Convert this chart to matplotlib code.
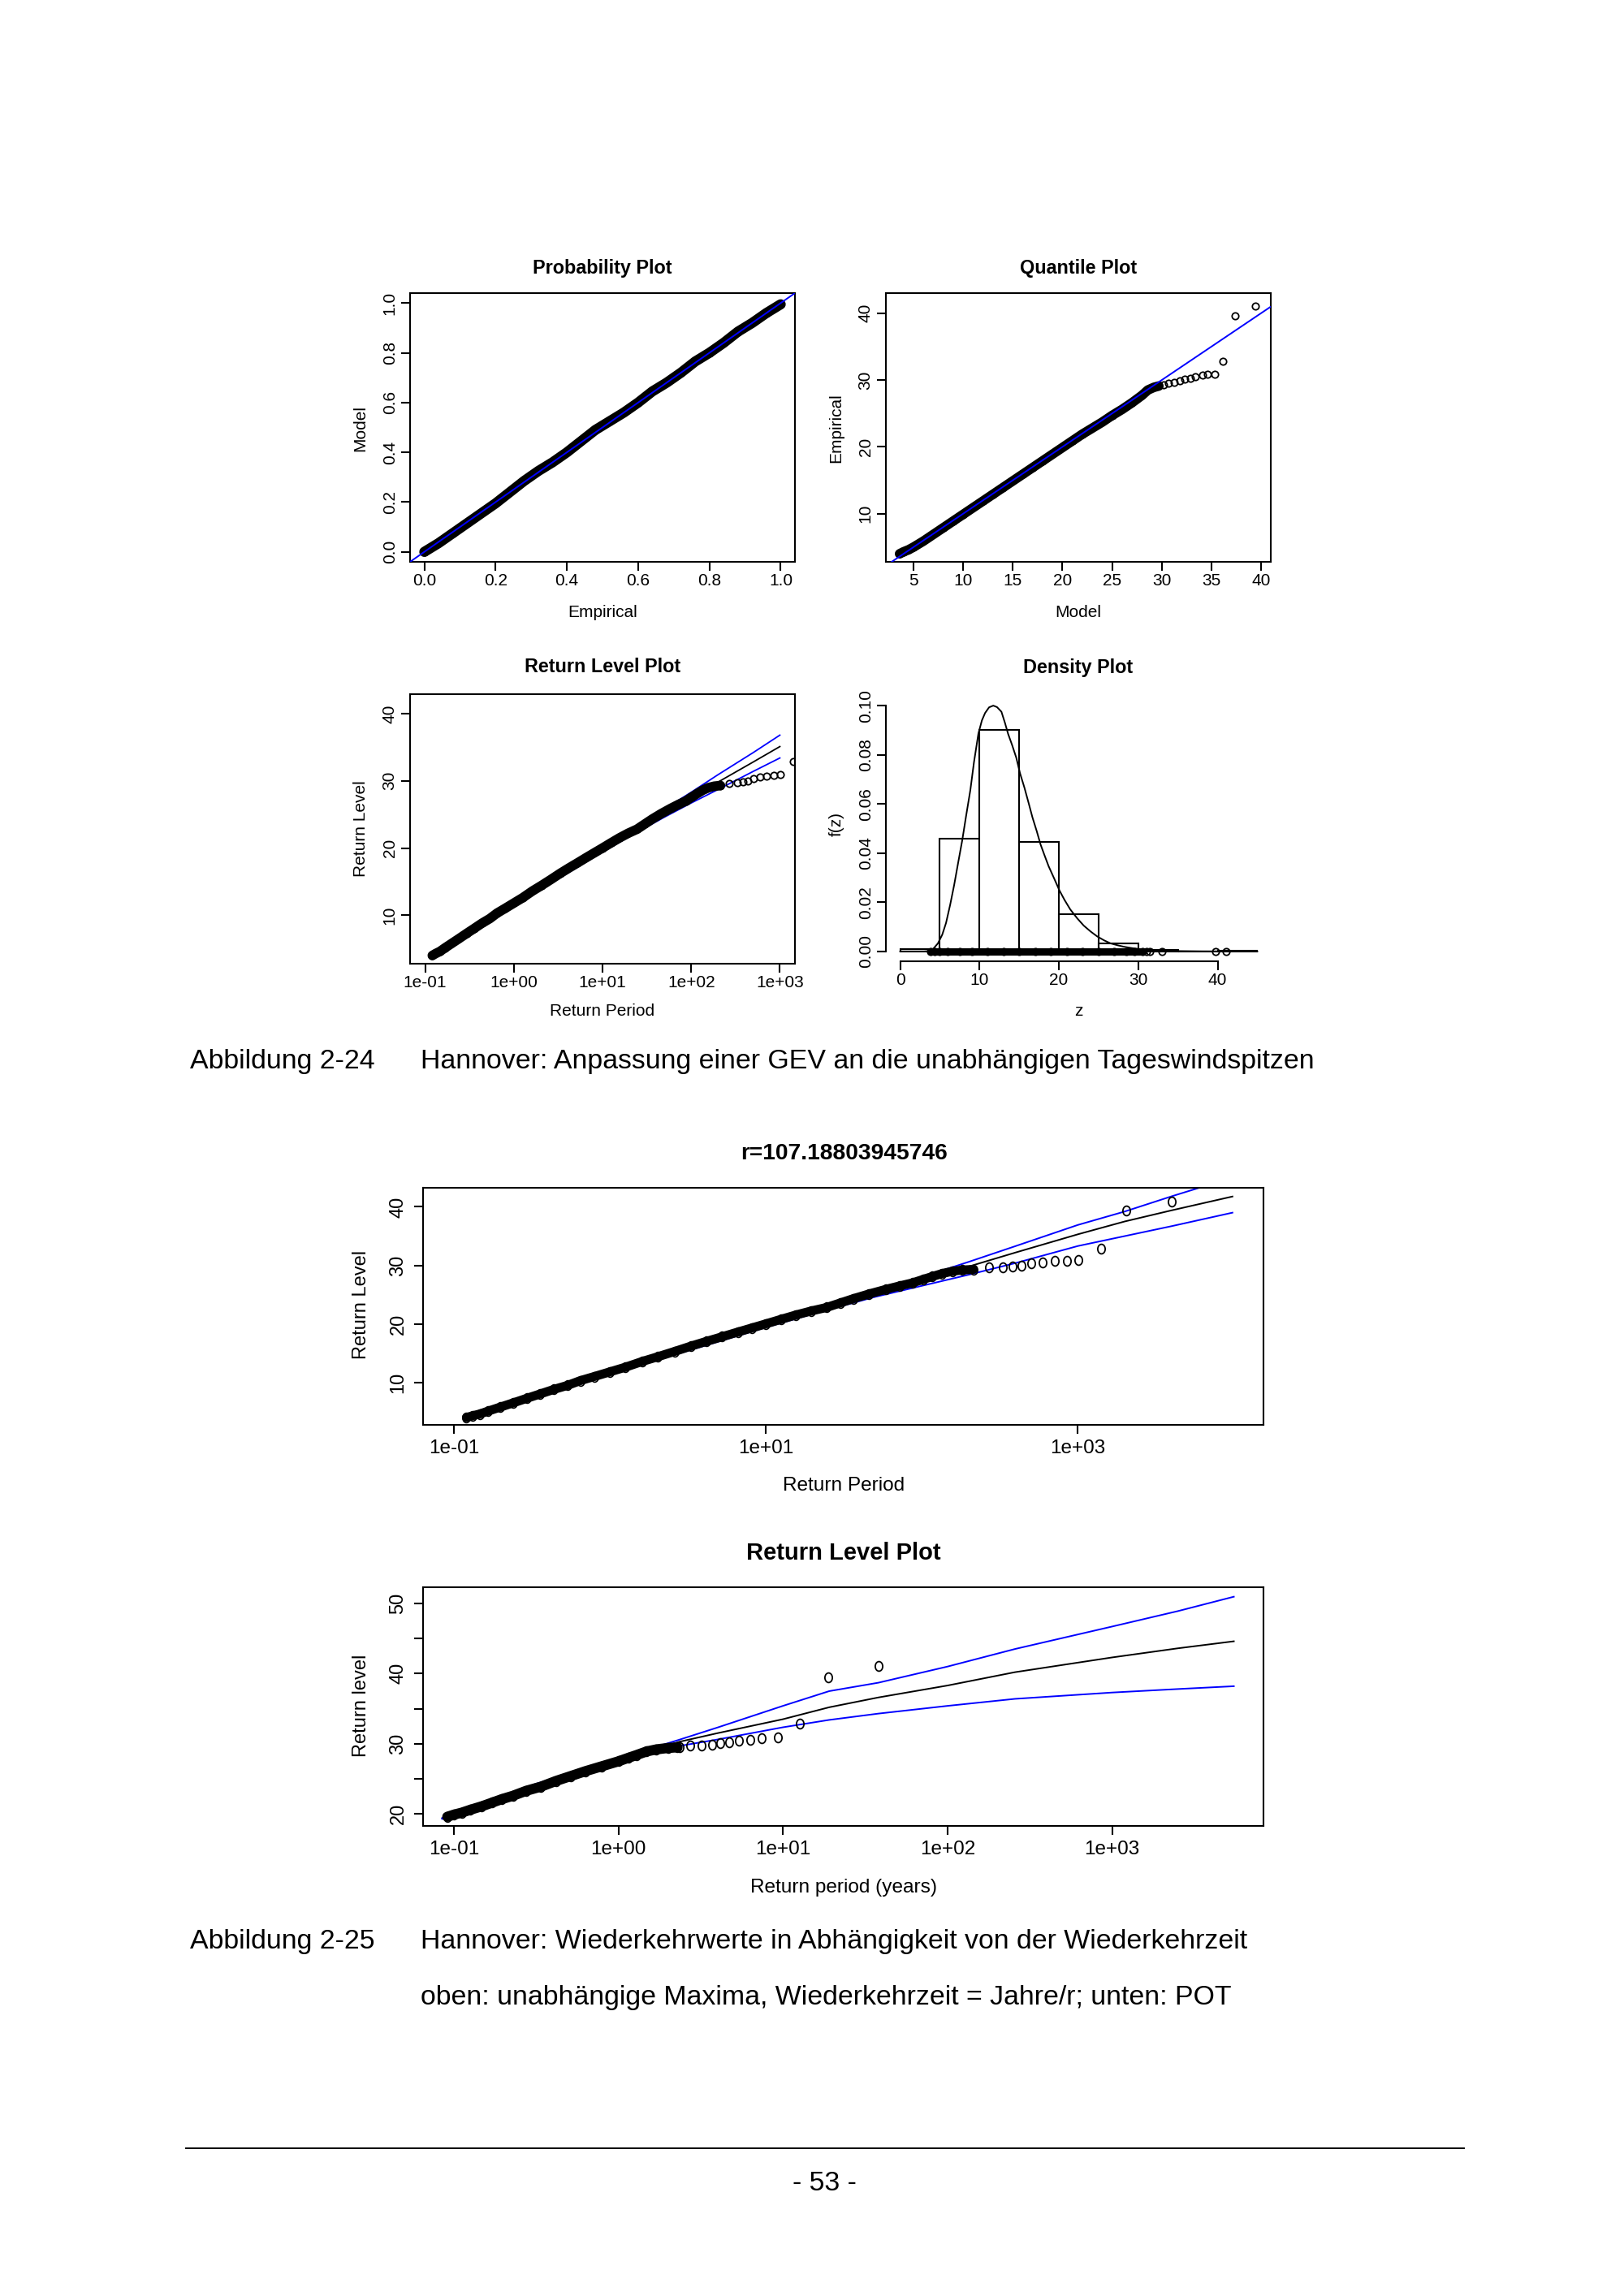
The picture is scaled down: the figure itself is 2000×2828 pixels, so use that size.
import matplotlib
matplotlib.use('Agg')
import matplotlib.pyplot as plt
from matplotlib.lines import Line2D
from matplotlib.path import Path
from matplotlib.ticker import NullLocator
from matplotlib.transforms import Affine2D

# ---------------- values ----------------
# Probability plot
prob_empirical = [0.0, 0.04, 0.08, 0.12, 0.16, 0.20, 0.24, 0.28, 0.32, 0.36, 0.40, 0.44, 0.48,
                  0.52, 0.56, 0.60, 0.64, 0.68, 0.72, 0.76, 0.80, 0.84, 0.88, 0.92, 0.96, 1.0]
prob_model = [0.0, 0.035, 0.075, 0.115, 0.155, 0.195, 0.24, 0.285, 0.325, 0.36, 0.40, 0.445, 0.49,
              0.525, 0.56, 0.60, 0.645, 0.68, 0.72, 0.765, 0.80, 0.84, 0.885, 0.92, 0.96, 0.995]

# Quantile plot
qq_model = [3.6, 4.0, 4.5, 5.0, 6.0, 7.0, 8.0, 9.0, 10.0, 11.0, 12.0, 13.0, 14.0, 15.0, 16.0,
            17.0, 18.0, 19.0, 20.0, 21.0, 22.0, 23.0, 24.0, 25.0, 26.0, 27.0, 28.0, 28.6, 29.2, 29.7]
qq_empirical = [4.0, 4.3, 4.6, 5.0, 5.9, 6.9, 7.9, 8.9, 9.9, 10.9, 11.9, 12.9, 13.9, 14.9, 15.9,
                16.9, 17.9, 18.9, 19.9, 20.9, 21.9, 22.8, 23.7, 24.7, 25.6, 26.6, 27.7, 28.5, 28.9, 29.1]
qq_tail_model = [30.2, 30.7, 31.25, 31.8, 32.3, 32.9, 33.4, 34.1, 34.6, 35.3, 36.13, 37.4, 39.45]
qq_tail_empirical = [29.3, 29.5, 29.7, 29.9, 30.1, 30.3, 30.5, 30.7, 30.85, 30.9, 32.85, 39.6, 41.05]

# Return level points (block maxima), shared by the small and the wide plot
rl_period = [0.1205, 0.1318, 0.1466, 0.166, 0.1995, 0.240, 0.295, 0.355, 0.437, 0.537, 0.646,
             0.794, 1.0, 1.259, 1.622, 2.04, 2.61, 3.31, 4.15, 5.25, 6.61, 8.13, 10.0, 12.6, 15.5,
             19.5, 24.5, 30.2, 36.3, 45.7, 58.9, 72.4, 87.1, 102, 117, 135, 158, 182, 214]
rl_level = [4.0, 4.3, 4.6, 5.1, 5.8, 6.5, 7.3, 8.0, 8.8, 9.5, 10.3, 11.0, 11.8, 12.6, 13.6, 14.4,
            15.3, 16.2, 17.0, 17.8, 18.6, 19.3, 20.0, 20.8, 21.5, 22.2, 22.8, 23.6, 24.3, 25.1,
            25.9, 26.5, 27.0, 27.6, 28.1, 28.6, 29.0, 29.2, 29.3]
rl_tail_period = [269, 331, 380, 437, 501, 596, 708, 851, 1012, 1413, 2032, 4009]
rl_tail_level = [29.6, 29.7, 29.8, 30.0, 30.3, 30.55, 30.7, 30.8, 30.95, 32.9, 39.3, 40.9]

# GEV return level curve with confidence band (small plot)
gev_period = [0.217, 0.5, 1, 2, 5, 10, 20, 50, 100, 200, 500, 1000]
gev_fit = [6.1, 9.1, 11.6, 14.1, 17.3, 19.7, 22.1, 25.2, 27.5, 29.8, 32.8, 35.1]
gev_upper = [6.4, 9.4, 11.9, 14.4, 17.6, 20.0, 22.5, 25.8, 28.3, 30.9, 34.2, 36.8]
gev_lower = [5.8, 8.8, 11.3, 13.8, 17.0, 19.4, 21.7, 24.6, 26.7, 28.7, 31.4, 33.4]

# return level curve of the wide plot (r=107.188...)
wide_period = [0.217, 0.5, 1, 2, 5, 10, 20, 50, 100, 200, 400, 1000, 2000, 4000, 9800]
wide_fit = [6.1, 9.1, 11.6, 14.1, 17.3, 19.7, 22.1, 25.2, 27.5, 29.8, 32.2, 35.3, 37.5, 39.4, 41.76]
wide_upper = [6.4, 9.4, 11.9, 14.4, 17.6, 20.0, 22.5, 25.8, 28.0, 30.6, 33.3, 36.9, 39.2, 41.8, 45.0]
wide_lower = [5.8, 8.8, 11.3, 13.8, 17.0, 19.4, 21.7, 24.6, 26.5, 28.4, 30.4, 33.3, 35.0, 36.7, 39.0]

# Density plot
hist_edges = [0, 5, 10, 15, 20, 25, 30, 35, 40, 45]
hist_density = [0.0008, 0.0458, 0.0901, 0.0444, 0.0151, 0.0034, 0.0006, 0.0, 0.0004]
dens_z = [0, 3.0, 3.74, 4.2, 4.76, 5.3, 5.78, 6.3, 6.8, 7.3, 7.82, 8.3, 8.84, 9.3, 9.86, 10.3,
          10.7, 11.2, 11.73, 12.2, 12.76, 13.2, 13.6, 14.1, 14.63, 15.1, 15.65, 16.2, 16.67, 17.2,
          17.69, 18.2, 18.7, 19.4, 20.07, 20.7, 21.43, 22.3, 23.13, 24.0, 24.83, 25.7, 26.5, 27.4,
          28.2, 29.5, 31.0, 33.0, 35.0, 38.0, 41.0, 45.0]
dens_f = [0, 0, 0.0002, 0.0012, 0.0033, 0.0068, 0.0116, 0.019, 0.027, 0.036, 0.0452, 0.055, 0.0656,
          0.077, 0.0887, 0.094, 0.097, 0.0993, 0.1, 0.0994, 0.0975, 0.093, 0.0885, 0.084, 0.0788,
          0.0725, 0.0667, 0.0602, 0.0545, 0.049, 0.0435, 0.039, 0.0347, 0.0297, 0.0248, 0.021,
          0.0171, 0.0135, 0.0105, 0.0081, 0.0061, 0.0045, 0.0033, 0.0025, 0.0019, 0.0012, 0.0007,
          0.0003, 0.00015, 0.00005, 0.00002, 0]
rug_z = [3.8, 4.3, 5.0, 6.0, 7.5, 9.0, 11.0, 13.0, 15.0, 17.0, 19.0, 21.0, 23.0, 25.0, 27.0,
         28.5, 29.5, 30.5]
rug_tail_z = [31.0, 31.5, 33.0, 39.7, 41.1]

# POT return level plot
pot_period = [0.0912, 0.1, 0.112, 0.126, 0.148, 0.17, 0.195, 0.229, 0.275, 0.339, 0.417, 0.513,
              0.631, 0.794, 1.0, 1.15, 1.29, 1.48, 1.70, 2.0, 2.29]
pot_level = [19.6, 19.9, 20.2, 20.6, 21.1, 21.6, 22.1, 22.6, 23.3, 23.9, 24.7, 25.4, 26.1, 26.8,
             27.5, 28.0, 28.4, 28.9, 29.2, 29.4, 29.5]
pot_tail_period = [2.36, 2.74, 3.19, 3.72, 4.16, 4.73, 5.42, 6.31, 7.45, 9.33, 12.7, 18.9, 38.1]
pot_tail_level = [29.5, 29.7, 29.8, 29.9, 30.05, 30.2, 30.5, 30.6, 30.8, 30.9, 32.9, 39.45, 41.06]
pot_curve_period = [0.085, 0.316, 1.0, 2.36, 3.98, 10, 19.1, 38, 100, 257, 1000, 2512, 5495]
pot_upper = [19.4, 24.3, 27.9, 30.6, 32.3, 35.4, 37.5, 38.7, 41.0, 43.5, 46.7, 48.9, 50.95]
pot_fit = [19.4, 24.0, 27.6, 30.3, 31.5, 33.5, 35.2, 36.6, 38.3, 40.2, 42.3, 43.6, 44.6]
pot_lower = [19.3, 23.7, 27.2, 29.7, 30.6, 32.35, 33.4, 34.3, 35.4, 36.4, 37.3, 37.8, 38.2]

log_labels = ['1e-01', '1e+00', '1e+01', '1e+02', '1e+03']

# ---------------- page ----------------
W, H = 2000, 2828
fig = plt.figure(figsize=(W / 100, H / 100), dpi=100)
fig.patch.set_facecolor('white')

SANS = ['Liberation Sans', 'DejaVu Sans']
BLUE = '#0000ff'
oval = Path.unit_circle().transformed(Affine2D().scale(0.78, 1.0))


def add_axes(x0, y0, x1, y1):
    ax = fig.add_axes([x0 / W, 1 - y1 / H, (x1 - x0) / W, (y1 - y0) / H])
    for s in ax.spines.values():
        s.set_linewidth(1.5)
    ax.tick_params(direction='out', length=8, width=1.5)
    return ax


def put(x, y, s, size, **kw):
    kw.setdefault('ha', 'center')
    kw.setdefault('va', 'center')
    fig.text(x / W, 1 - y / H, s, fontsize=size, family=SANS, **kw)


def set_ticks(ax, xt, xl, yt, yl, xfs, yfs, xpad=2, ypad=3):
    ax.set_xticks(xt)
    ax.set_xticklabels(xl, fontsize=xfs, family=SANS)
    ax.set_yticks(yt)
    ax.set_yticklabels(yl, fontsize=yfs, family=SANS, rotation=90, va='center')
    ax.xaxis.set_minor_locator(NullLocator())
    ax.yaxis.set_minor_locator(NullLocator())
    ax.tick_params(axis='x', pad=xpad)
    ax.tick_params(axis='y', pad=ypad)


def cloud(ax, x, y, lw, ms, marker='o'):
    # dense run of overlapping circles: drawn as a solid band plus the circles
    ax.plot(x, y, color='black', lw=lw, solid_capstyle='round', solid_joinstyle='round', zorder=3)
    ax.plot(x, y, ls='none', marker=marker, ms=ms, mfc='none', mec='black', mew=1.2, zorder=3)


def circles(ax, x, y, ms, marker='o'):
    ax.plot(x, y, ls='none', marker=marker, ms=ms, mfc='none', mec='black', mew=1.3, zorder=3)


def curves(ax, x, fit, upper, lower, lw):
    ax.plot(x, fit, color='black', lw=lw, zorder=2)
    ax.plot(x, upper, color=BLUE, lw=lw, zorder=2)
    ax.plot(x, lower, color=BLUE, lw=lw, zorder=2)


# --- Probability plot ---
ax = add_axes(505, 361, 979, 692)
cloud(ax, prob_empirical, prob_model, 9, 6)
ax.axline((0, 0), slope=1, color=BLUE, lw=1.4, zorder=4)
ax.set_xlim(-0.04, 1.04)
ax.set_ylim(-0.04, 1.04)
lab = ['0.0', '0.2', '0.4', '0.6', '0.8', '1.0']
set_ticks(ax, [0, 0.2, 0.4, 0.6, 0.8, 1.0], lab, [0, 0.2, 0.4, 0.6, 0.8, 1.0], lab, 15, 15)
put(742, 330, 'Probability Plot', 16.8, weight='bold')
put(742, 754, 'Empirical', 15)
put(444, 527, 'Model', 15, rotation=90)

# --- Quantile plot ---
ax = add_axes(1091, 361, 1565, 692)
cloud(ax, qq_model, qq_empirical, 8.5, 6)
circles(ax, qq_tail_model, qq_tail_empirical, 6)
ax.axline((10, 10), slope=1, color=BLUE, lw=1.4, zorder=4)
ax.set_xlim(2.22, 40.97)
ax.set_ylim(2.8, 43.0)
set_ticks(ax, [5, 10, 15, 20, 25, 30, 35, 40], ['5', '10', '15', '20', '25', '30', '35', '40'],
          [10, 20, 30, 40], ['10', '20', '30', '40'], 15, 15)
put(1328, 330, 'Quantile Plot', 16.8, weight='bold')
put(1328, 754, 'Model', 15)
put(1030, 527, 'Empirical', 15, rotation=90)

# --- Return level plot (small) ---
ax = add_axes(505, 855, 979, 1187)
ax.set_xscale('log')
curves(ax, gev_period, gev_fit, gev_upper, gev_lower, 1.3)
cloud(ax, rl_period, rl_level, 8.5, 6)
circles(ax, rl_tail_period, rl_tail_level, 6)
ax.set_xlim(10 ** -1.17, 10 ** 3.17)
ax.set_ylim(2.78, 42.9)
set_ticks(ax, [0.1, 1, 10, 100, 1000], log_labels, [10, 20, 30, 40], ['10', '20', '30', '40'], 15, 15)
put(742, 822, 'Return Level Plot', 16.8, weight='bold')
put(742, 1246, 'Return Period', 15)
put(444, 1021, 'Return Level', 15, rotation=90)

# --- Density plot ---
ax = add_axes(1091, 857, 1566, 1184)
ax.bar(hist_edges[:-1], hist_density, width=5, align='edge', facecolor='white',
       edgecolor='black', lw=1.5, zorder=1)
ax.plot(rug_z, [0] * len(rug_z), color='black', lw=6.5, solid_capstyle='round', zorder=2)
circles(ax, rug_z + rug_tail_z, [0] * (len(rug_z) + len(rug_tail_z)), 6)
ax.plot(dens_z, dens_f, color='black', lw=1.4, zorder=3)
ax.set_xlim(-1.8, 46.8)
ax.set_ylim(-0.004, 0.104)
ax.spines['top'].set_visible(False)
ax.spines['right'].set_visible(False)
ax.spines['left'].set_bounds(0, 0.1)
ax.spines['bottom'].set_bounds(0, 40)
set_ticks(ax, [0, 10, 20, 30, 40], ['0', '10', '20', '30', '40'],
          [0, 0.02, 0.04, 0.06, 0.08, 0.10], ['0.00', '0.02', '0.04', '0.06', '0.08', '0.10'], 15, 15)
put(1328, 822, 'Density Plot', 16.8, weight='bold')
put(1328, 1246, 'z', 15)
put(1030, 1015, 'f(z)', 15, rotation=90)

# --- caption 2-24 ---
put(234, 1316, 'Abbildung 2-24', 24.4, ha='left', va='baseline')
put(518, 1316, 'Hannover: Anpassung einer GEV an die unabhängigen Tageswindspitzen', 24.4,
    ha='left', va='baseline')

# --- wide return level plot (independent maxima) ---
ax = add_axes(521, 1463, 1556, 1755)
ax.set_xscale('log')
curves(ax, wide_period, wide_fit, wide_upper, wide_lower, 1.4)
cloud(ax, rl_period, rl_level, 8, 8.5, oval)
circles(ax, rl_tail_period, rl_tail_level, 8.5, oval)
ax.set_xlim(10 ** -1.197, 10 ** 4.19)
ax.set_ylim(2.75, 43.25)
set_ticks(ax, [0.1, 10, 1000], ['1e-01', '1e+01', '1e+03'], [10, 20, 30, 40],
          ['10', '20', '30', '40'], 17.5, 17, xpad=5, ypad=6)
put(1039, 1421, 'r=107.18803945746', 20.3, weight='bold')
put(1039, 1830, 'Return Period', 17.6)
put(445, 1607, 'Return Level', 17, rotation=90)

# --- POT return level plot ---
ax = add_axes(521, 1955, 1556, 2249)
ax.set_xscale('log')
curves(ax, pot_curve_period, pot_fit, pot_upper, pot_lower, 1.4)
cloud(ax, pot_period, pot_level, 9, 8.5, oval)
circles(ax, pot_tail_period, pot_tail_level, 8.5, oval)
ax.set_xlim(10 ** -1.187, 10 ** 3.92)
ax.set_ylim(18.3, 52.3)
set_ticks(ax, [0.1, 1, 10, 100, 1000], log_labels, [20, 25, 30, 35, 40, 45, 50],
          ['20', '', '30', '', '40', '', '50'], 17.5, 17, xpad=5, ypad=6)
put(1039, 1913, 'Return Level Plot', 21, weight='bold')
put(1039, 2325, 'Return period (years)', 17.6)
put(445, 2101, 'Return level', 17, rotation=90)

# --- caption 2-25 ---
put(234, 2400, 'Abbildung 2-25', 24.4, ha='left', va='baseline')
put(518, 2400, 'Hannover: Wiederkehrwerte in Abhängigkeit von der Wiederkehrzeit', 24.4,
    ha='left', va='baseline')
put(518, 2469, 'oben: unabhängige Maxima, Wiederkehrzeit = Jahre/r; unten: POT', 24.4,
    ha='left', va='baseline')

# --- footer ---
fig.add_artist(Line2D([229 / W, 1803 / W], [1 - 2646 / H, 1 - 2646 / H], color='black', lw=1.4))
put(1015, 2698, '- 53 -', 24.4, va='baseline')

fig.savefig('out.png', dpi=100, facecolor='white')
